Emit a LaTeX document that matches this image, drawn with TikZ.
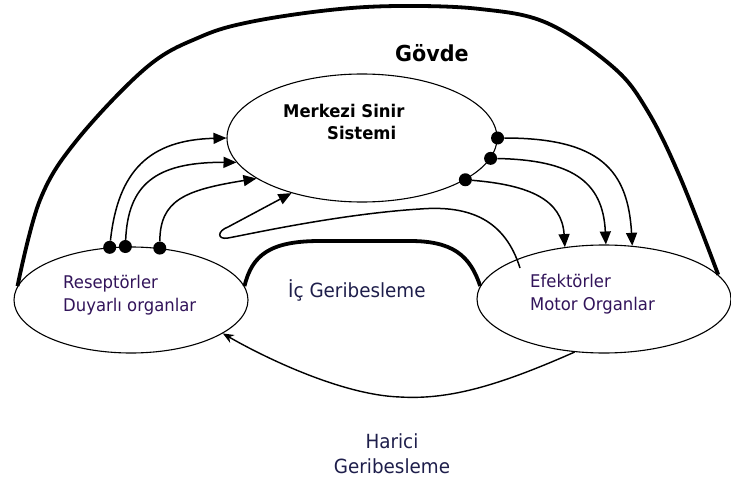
\documentclass[tikz,border=0pt]{standalone}
\usepackage{fontspec}
\setmainfont{DejaVu Sans}[FakeStretch=0.94]
\usetikzlibrary{shapes.geometric,arrows.meta}
\definecolor{lblpurple}{RGB}{50,20,90}
\definecolor{lblnavy}{RGB}{30,30,75}
\begin{document}
\begin{tikzpicture}[x=1pt,y=-1pt,
  oval/.style={ellipse,draw,line width=1.1pt,inner sep=0pt},
  dotnode/.style={circle,fill,inner sep=0pt,minimum size=13pt},
  conn/.style={line width=1.5pt,-{Triangle[length=13pt,width=11pt]}},
  heavy/.style={line width=3.8pt},
  lbl/.style={inner sep=0pt,anchor=base west,font=\fontsize{17.5}{20}\selectfont,text=lblpurple},
  mlbl/.style={inner sep=0pt,anchor=base west,font=\bfseries\fontsize{17.5}{20}\selectfont},
  fblbl/.style={inner sep=0pt,font=\fontsize{19.5}{22}\selectfont,text=lblnavy}]
\fill[white] (0,0) rectangle (731,484);
\useasboundingbox (0,0) rectangle (731,484);

% ellipses
\node[oval,minimum width=270pt,minimum height=128pt] (mss) at (362,138) {};
\node[oval,minimum width=234pt,minimum height=106pt] (res) at (131,300) {};
\node[oval,minimum width=254pt,minimum height=108pt] (eff) at (604,299) {};

% labels
\node[inner sep=0pt,anchor=base west,font=\bfseries\fontsize{22}{24}\selectfont] (govde) at (395,62) {Gövde};
\node[mlbl] (mss1) at (283,118) {Merkezi Sinir};
\node[mlbl] (mss2) at (327,140) {Sistemi};
\node[lbl] (res1) at (63,288) {Reseptörler};
\node[lbl] (res2) at (63,311) {Duyarlı organlar};
\node[lbl] (eff1) at (530,287) {Efektörler};
\node[lbl] (eff2) at (530,310) {Motor Organlar};
\node[fblbl,anchor=base west] (ic) at (288,297) {İç Geribesleme};
\node[fblbl,anchor=base] (har1) at (392,448) {Harici};
\node[fblbl,anchor=base] (har2) at (392,473) {Geribesleme};

% dots
\node[dotnode] (r1) at (res.112) {};
\node[dotnode] (r2) at (res.96) {};
\node[dotnode] (r3) at (res.61) {};
\node[dotnode] (m1) at (mss.0) {};
\node[dotnode] (m2) at (mss.-9) {};
\node[dotnode] (m3) at (mss.-22) {};

% body outline
\draw[heavy] plot[smooth,tension=0.6] coordinates {(res.173) (40,200) (77,140) (147,67) (200,37) (250,22) (330,10) (400,6) (480,9) (547,23) (613,67) (647,110) (680,177) (eff.12)};

% inner feedback
\draw[heavy] (res.7) .. controls (252,255) and (270,241) .. (320,241) -- (410,241) .. controls (452,241) and (470,255) .. (eff.174);

% afferent
\draw[conn] (r1) .. controls (118,170) and (150,140) .. (mss.180);
\draw[conn] (r2) .. controls (128,185) and (155,162) .. (mss.191);
\draw[conn] (r3) .. controls (160,200) and (185,190) .. (mss.201);

% efferent
\draw[conn] (m1) .. controls (600,138) and (628,170) .. (eff.62);
\draw[conn] (m2) .. controls (570,160) and (603,180) .. (eff.88);
\draw[conn] (m3) .. controls (530,185) and (562,200) .. (eff.127);

% loop from effectors back to CNS
\coordinate (loopstart) at (520,268);
\draw[conn] (loopstart) .. controls (505,220) and (470,205) .. (420,209) .. controls (340,214) and (250,234) .. (228,238) .. controls (217,240) and (217,231) .. (228,227) -- (mss.218);

% external feedback
\draw[line width=1.4pt,-{Stealth[length=11pt,width=9pt]}] (eff.241) .. controls (500,385) and (450,400) .. (400,397) .. controls (340,395) and (260,355) .. (res.-20);
\end{tikzpicture}
\end{document}
